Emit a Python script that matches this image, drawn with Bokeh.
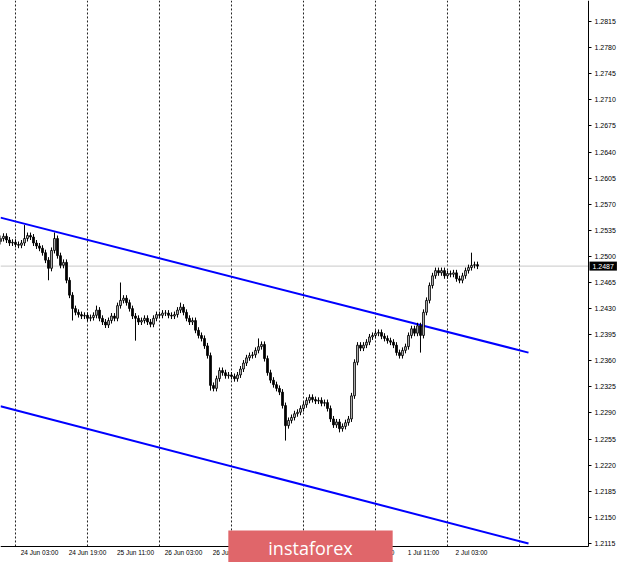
from bokeh.plotting import figure
from bokeh.models import FixedTicker, Range1d, PrintfTickFormatter, ColumnDataSource, Label
from bokeh.embed import file_html
from bokeh.resources import INLINE

# ---- data (H1 candles, bar index 0 = 24 Jun 00:00, weekends skipped) ----
first_bar = -5
closes = [
    1.2524, 1.2527, 1.2522, 1.2518, 1.2519,
    1.2516, 1.2515, 1.2518, 1.2524, 1.2528, 1.2526, 1.2518, 1.2514, 1.2511, 1.2505,
    1.2495, 1.2484, 1.2508, 1.2524, 1.2501, 1.2488, 1.2492, 1.2468, 1.2448, 1.2430,
    1.2425, 1.2422, 1.2420, 1.2421, 1.2417, 1.2418, 1.2421, 1.2428, 1.2417, 1.2412,
    1.2408, 1.2414, 1.2420, 1.2417, 1.2434, 1.2441, 1.2444, 1.2438, 1.2430, 1.2420,
    1.2417, 1.2412, 1.2414, 1.2417, 1.2412, 1.2409, 1.2417, 1.2422, 1.2421, 1.2424,
    1.2424, 1.2421, 1.2420, 1.2422, 1.2428, 1.2432, 1.2425, 1.2417, 1.2412, 1.2414,
    1.2401, 1.2394, 1.2390, 1.2380, 1.2367, 1.2327, 1.2323, 1.2336, 1.2347, 1.2344,
    1.2340, 1.2341, 1.2339, 1.2336, 1.2341, 1.2349, 1.2357, 1.2364, 1.2367, 1.2368,
    1.2374, 1.2379, 1.2382, 1.2363, 1.2344, 1.2334, 1.2328, 1.2323, 1.2318, 1.2300,
    1.2273, 1.2280, 1.2284, 1.2289, 1.2291, 1.2296, 1.2301, 1.2307, 1.2311, 1.2308,
    1.2306, 1.2307, 1.2303, 1.2304, 1.2296, 1.2282, 1.2274, 1.2278, 1.2269, 1.2272,
    1.2277, 1.2282, 1.2313, 1.2358, 1.2381, 1.2377, 1.2381, 1.2385, 1.2392, 1.2394,
    1.2397, 1.2398, 1.2393, 1.2390, 1.2387, 1.2385, 1.2381, 1.2371, 1.2367, 1.2374,
    1.2379, 1.2394, 1.2403, 1.2397, 1.2407, 1.2394, 1.2425, 1.2441, 1.2461, 1.2474,
    1.2481, 1.2478, 1.2481, 1.2474, 1.2477, 1.2476, 1.2478, 1.2470, 1.2468, 1.2474,
    1.2481, 1.2485, 1.2488, 1.2489, 1.2487,
]
first_open = 1.2520
typical_wick = 0.0004
spike_highs = {3: 1.2542, 13: 1.2532, 27: 1.2434, 35: 1.2465, 55: 1.2438,
               81: 1.2390, 152: 1.2505}
spike_lows = {11: 1.2468, 19: 1.2414, 40: 1.2387, 65: 1.2320, 90: 1.2253,
              108: 1.2264, 135: 1.2371}

price_ticks = [1.2115, 1.2150, 1.2185, 1.2220, 1.2255, 1.2290, 1.2325, 1.2360,
               1.2395, 1.2430, 1.2465, 1.2500, 1.2535, 1.2570, 1.2605, 1.2640,
               1.2675, 1.2710, 1.2745, 1.2780, 1.2815]
time_label_bars = [3, 19, 35, 51, 67, 83, 99, 115, 131, 147]
time_labels = ["24 Jun 03:00", "24 Jun 19:00", "25 Jun 11:00", "26 Jun 03:00",
               "26 Jun 19:00", "29 Jun 11:00", "30 Jun 03:00", "30 Jun 19:00",
               "1 Jul 11:00", "2 Jul 03:00"]
day_start_bars = [0, 24, 48, 72, 96, 120, 144, 168]
channel_x = [-5, 171]
upper_channel = [1.2552, 1.2371]
lower_channel = [1.2299, 1.2115]
current_price = 1.2487

# chart window (visible bars / prices) and the outer label area
chart_x = (-5, 191)
chart_y = (1.21110, 1.28432)
outer_x = (-5, 201.667)
outer_y = (1.20895, 1.28432)

# ---- build candles ----
bars = list(range(first_bar, first_bar + len(closes)))
opens = [first_open] + closes[:-1]
highs, lows = [], []
for b, o, c in zip(bars, opens, closes):
    highs.append(spike_highs.get(b, max(o, c) + typical_wick))
    lows.append(spike_lows.get(b, min(o, c) - typical_wick))

up = dict(x=[], top=[], bottom=[])
dn = dict(x=[], top=[], bottom=[])
for b, o, c in zip(bars, opens, closes):
    d = up if c >= o else dn
    d["x"].append(b)
    d["top"].append(max(o, c))
    d["bottom"].append(min(o, c))

p = figure(width=620, height=562, output_backend="svg", toolbar_location=None,
           x_range=Range1d(*outer_x), y_range=Range1d(*outer_y),
           y_axis_location="right", min_border=0,
           min_border_left=0, min_border_top=0, min_border_right=0, min_border_bottom=0,
           background_fill_color="white", border_fill_color="white",
           outline_line_color=None)
p.xgrid.visible = False
p.ygrid.visible = False

# vertical dotted day separators (only inside the chart window)
p.segment(x0=day_start_bars, x1=day_start_bars,
          y0=[chart_y[0]] * len(day_start_bars), y1=[chart_y[1]] * len(day_start_bars),
          line_color="#222222", line_dash="2 2", line_width=1)

# current price line
p.segment(x0=[chart_x[0]], x1=[chart_x[1]], y0=[current_price], y1=[current_price],
          line_color="#c8c8c8", line_width=1)

# channel lines
p.line(channel_x, upper_channel, line_color="#0000ff", line_width=2)
p.line(channel_x, lower_channel, line_color="#0000ff", line_width=2)

# candles
p.segment(x0=bars, y0=highs, x1=bars, y1=lows, line_color="black", line_width=1)
p.vbar(x="x", top="top", bottom="bottom", width=0.55, source=ColumnDataSource(up),
       fill_color="white", line_color="black", line_width=1)
p.vbar(x="x", top="top", bottom="bottom", width=0.55, source=ColumnDataSource(dn),
       fill_color="black", line_color="black", line_width=1)

# axes: pinned to the chart window edges
ya = p.yaxis[0]
ya.fixed_location = chart_x[1]
ya.bounds = chart_y
ya.ticker = FixedTicker(ticks=price_ticks)
ya.formatter = PrintfTickFormatter(format="%.4f")
ya.major_label_text_font = "Liberation Sans"
ya.major_label_text_font_size = "7px"
ya.major_label_text_color = "black"
ya.major_tick_in = 0
ya.major_tick_out = 3
ya.minor_tick_in = 0
ya.minor_tick_out = 0
ya.major_label_standoff = 3
ya.axis_line_color = "black"

label_offset = 5
xa = p.xaxis[0]
xa.fixed_location = chart_y[0]
xa.bounds = chart_x
xa.ticker = FixedTicker(ticks=[b + label_offset for b in time_label_bars])
xa.major_label_overrides = {b + label_offset: t for b, t in zip(time_label_bars, time_labels)}
xa.major_label_text_font = "Liberation Sans"
xa.major_label_text_font_size = "6.5px"
xa.major_label_text_color = "black"
xa.major_tick_in = 0
xa.major_tick_out = 0
xa.minor_tick_in = 0
xa.minor_tick_out = 0
xa.major_label_standoff = 3
xa.axis_line_color = "black"

# current price tag on the right axis
p.add_layout(Label(x=chart_x[1], x_offset=1, y=current_price, text="1.2487",
                   text_align="left", text_baseline="middle",
                   text_font="Liberation Sans", text_font_size="7px",
                   text_color="white", background_fill_color="black",
                   padding=(3, 2)))

# watermark
p.add_layout(Label(x=310, x_units="screen", y=15, y_units="screen",
                   text="instaforex", text_align="center", text_baseline="middle",
                   text_font="Open Sans", text_font_size="18px",
                   text_color="white", background_fill_color="#e0666a",
                   padding=(40, 5)))

open("out.html", "w").write(file_html(p, INLINE))
